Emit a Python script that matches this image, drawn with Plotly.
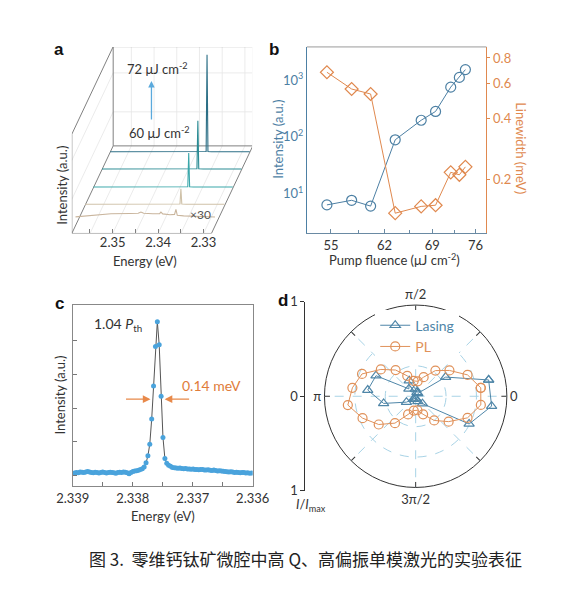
import plotly.graph_objects as go

W, H = 569, 594
def px_x(x): return x / W
def px_y(y): return 1 - y / H

FONT = "Lato"
DARK = "#333333"

# ---------------- Panel a: waterfall spectra ----------------
A_DEPTH = [0.09, 0.32, 0.52, 0.73, 0.93]
A_COLORS = ["#c9b59d", "#cfc1a8", "#3aa7aa", "#2a8b93", "#2c6f86"]
A_E = [
    [2.3590, 2.3512, 2.3470, 2.3452, 2.3446, 2.3440, 2.3420, 2.3405, 2.3402, 2.3398,
     2.3382, 2.3372, 2.3369, 2.3366, 2.3352, 2.3300, 2.3283],
    [2.3590, 2.3450, 2.3392, 2.3381, 2.3379, 2.3377, 2.3367, 2.3283],
    [2.3590, 2.3392, 2.3382, 2.3380, 2.3378, 2.3370, 2.3283],
    [2.3590, 2.3392, 2.3381, 2.3379, 2.3377, 2.3367, 2.3283],
    [2.3590, 2.3387, 2.3379, 2.3377, 2.3375, 2.3367, 2.3283],
]
A_I = [
    [0.089, 0.122, 0.124, 0.126, 0.139, 0.126, 0.122, 0.122, 0.139, 0.120,
     0.112, 0.115, 0.166, 0.106, 0.100, 0.090, 0.088],
    [0.012, 0.012, 0.012, 0.015, 0.170, 0.015, 0.012, 0.012],
    [0.010, 0.010, 0.012, 0.360, 0.012, 0.010, 0.010],
    [0.005, 0.005, 0.008, 0.500, 0.008, 0.005, 0.005],
    [0.003, 0.003, 0.006, 1.000, 0.006, 0.003, 0.003],
]
A_TICKS = [2.355, 2.35, 2.345, 2.34, 2.335, 2.33]
A_TICKTEXT = ["", "2.35", "", "2.34", "", "2.33"]
A_IGRID = [0.35, 0.75]
E0, E1, BOX_H = 2.3590, 2.32826, 1.02
E_PER_PX = 2.07e-4
SKEW_E, SKEW_I = -44 * E_PER_PX, 0.90

# ---------------- Panel b ----------------
FLUENCE = [54.5, 57.6, 60.1, 63.5, 67.3, 69.5, 71.9, 73.3, 74.3]
PEAK_INTENSITY = [6.3, 7.6, 6.0, 89, 197, 282, 758, 1126, 1546]
LINEWIDTH = [0.680, 0.562, 0.531, 0.137, 0.148, 0.150, 0.218, 0.212, 0.232]

# ---------------- Panel c ----------------
C_ENERGY = [
    2.338972, 2.338940, 2.338909, 2.338877, 2.338846, 2.338815, 2.338783, 2.338752, 2.338720, 2.338689,
    2.338658, 2.338626, 2.338595, 2.338563, 2.338532, 2.338501, 2.338469, 2.338438, 2.338406, 2.338375,
    2.338344, 2.338312, 2.338281, 2.338249, 2.338218, 2.338187, 2.338155, 2.338124, 2.338092, 2.338061,
    2.338030, 2.337998, 2.337967, 2.337935, 2.337904, 2.337873, 2.337841, 2.337810, 2.337778, 2.337747,
    2.337716, 2.337684, 2.337653, 2.337621, 2.337590, 2.337559, 2.337527, 2.337496, 2.337464, 2.337433,
    2.337402, 2.337370, 2.337339, 2.337307, 2.337276, 2.337245, 2.337213, 2.337182, 2.337150, 2.337119,
    2.337088, 2.337056, 2.337025, 2.336993, 2.336962, 2.336931, 2.336899, 2.336868, 2.336836, 2.336805,
    2.336774, 2.336742, 2.336711, 2.336679, 2.336648, 2.336617, 2.336585, 2.336554, 2.336522, 2.336491,
    2.336460, 2.336428, 2.336397, 2.336365, 2.336334, 2.336303, 2.336271, 2.336240, 2.336208, 2.336177,
    2.336146, 2.336114, 2.336083, 2.336051, 2.336020,
]
C_INTENSITY = [
    0.015, 0.018, 0.016, 0.020, 0.019, 0.017, 0.021, 0.023, 0.020, 0.018,
    0.016, 0.019, 0.017, 0.015, 0.018, 0.020, 0.017, 0.015, 0.017, 0.019,
    0.018, 0.016, 0.014, 0.017, 0.019, 0.018, 0.020, 0.019, 0.016,
    0.010, 0.018, 0.024, 0.027, 0.028, 0.031, 0.035, 0.040, 0.050, 0.075,
    0.117, 0.185, 0.335, 0.530, 0.765, 0.912, 0.775, 0.470, 0.225, 0.100,
    0.072, 0.060, 0.055,
    0.048, 0.046, 0.045, 0.043, 0.044, 0.042, 0.040, 0.041, 0.039, 0.038,
    0.037, 0.038, 0.036, 0.035, 0.034, 0.036, 0.035, 0.033, 0.032, 0.034,
    0.031, 0.030, 0.032, 0.029, 0.027, 0.028, 0.026, 0.025, 0.024, 0.022,
    0.021, 0.022, 0.020, 0.018, 0.019, 0.017, 0.016, 0.018, 0.017, 0.015,
    0.016, 0.014, 0.015,
]

# ---------------- Panel d ----------------
LASING_ANGLE = [12.6, 32.6, 52.6, 72.6, 92.6, 112.6, 132.6, 152.6, 172.6,
                192.6, 212.6, 232.6, 252.6, 272.6, 292.6, 312.6, 332.6, 352.6]
LASING_R = [0.82, 0.39, 0.04, 0.045, 0.08, 0.185, 0.11, 0.49, 0.53,
            0.36, 0.12, 0.04, 0.02, 0.03, 0.06, 0.11, 0.66, 0.84]
PL_ANGLE = [7.4, 22.4, 37.4, 52.4, 67.4, 82.4, 97.4, 112.4, 127.4, 142.4, 157.4, 172.4,
            187.4, 202.4, 217.4, 232.4, 247.4, 262.4, 277.4, 292.4, 307.4, 322.4, 337.4, 352.4]
PL_R = [0.72, 0.615, 0.466, 0.355, 0.227, 0.165, 0.17, 0.242, 0.362, 0.482, 0.637, 0.70,
        0.75, 0.63, 0.51, 0.372, 0.216, 0.158, 0.155, 0.214, 0.334, 0.456, 0.616, 0.721]

BLUE = "#4d80a4"
ORANGE = "#e0894f"
L_BLUE = "#4f86a8"
L_ORANGE = "#e0915a"

fig = go.Figure()

def proj(E, d, I):
    return E + d * SKEW_E, I + d * SKEW_I

def add_a_line(Es, ds, Is, color, width=1.0):
    xs, ys = [], []
    for E, d, I in zip(Es, ds, Is):
        x, y = proj(E, d, I)
        xs.append(x); ys.append(y)
    fig.add_trace(go.Scatter(x=xs, y=ys, mode="lines", line=dict(color=color, width=width),
                             showlegend=False, hoverinfo="skip", xaxis="x", yaxis="y"))

GRID = "#e6e6e6"
BOX = "#808080"
for E in A_TICKS:
    add_a_line([E, E], [0, 1], [0, 0], GRID, 0.8)
    add_a_line([E, E], [1, 1], [0, BOX_H], GRID, 0.8)
for g in A_IGRID:
    add_a_line([E0, E1], [1, 1], [g, g], GRID, 0.8)
    add_a_line([E0, E0], [0, 1], [g, g], GRID, 0.8)
add_a_line([E0, E1], [0, 0], [0, 0], BOX)
add_a_line([E0, E0], [0, 0], [0, BOX_H], BOX)
add_a_line([E0, E0], [0, 1], [BOX_H, BOX_H], BOX)
add_a_line([E0, E0], [1, 1], [0, BOX_H], BOX)
add_a_line([E0, E1], [1, 1], [BOX_H, BOX_H], BOX)
add_a_line([E1, E1], [1, 1], [0, BOX_H], BOX)
add_a_line([E0, E1], [1, 1], [0, 0], BOX)
add_a_line([E1, E1], [0, 1], [0, 0], BOX)
add_a_line([E0, E0], [0, 1], [0, 0], BOX)
for i in reversed(range(len(A_DEPTH))):
    add_a_line(A_E[i], [A_DEPTH[i]] * len(A_E[i]), A_I[i], A_COLORS[i], 1.1)

fig.add_trace(go.Scatter(x=FLUENCE, y=PEAK_INTENSITY, mode="lines+markers",
                         line=dict(color=BLUE, width=1),
                         marker=dict(symbol="circle-open", size=10, color=BLUE, line=dict(width=1.2)),
                         showlegend=False, xaxis="x2", yaxis="y2"))
fig.add_trace(go.Scatter(x=FLUENCE, y=LINEWIDTH, mode="lines+markers",
                         line=dict(color=ORANGE, width=1),
                         marker=dict(symbol="diamond-open", size=10, color=ORANGE, line=dict(width=1.2)),
                         showlegend=False, xaxis="x2", yaxis="y3"))

fig.add_trace(go.Scatter(x=C_ENERGY, y=C_INTENSITY, mode="lines+markers",
                         line=dict(color="#555555", width=1),
                         marker=dict(size=5, color="#4aa3dc"),
                         showlegend=False, xaxis="x4", yaxis="y4"))

fig.add_trace(go.Scatter(x=[0], y=[0], mode="markers", marker=dict(opacity=0),
                         showlegend=False, hoverinfo="skip", xaxis="x5", yaxis="y5"))

fig.add_trace(go.Scatterpolar(theta=LASING_ANGLE + LASING_ANGLE[:1], r=LASING_R + LASING_R[:1],
                              mode="lines+markers", name='<span style="color:%s">Lasing</span>' % L_BLUE,
                              line=dict(color=L_BLUE, width=1),
                              marker=dict(symbol="triangle-up-open", size=9, color=L_BLUE, line=dict(width=1.2))))
fig.add_trace(go.Scatterpolar(theta=PL_ANGLE + PL_ANGLE[:1], r=PL_R + PL_R[:1],
                              mode="lines+markers", name='<span style="color:%s">PL</span>' % L_ORANGE,
                              line=dict(color=L_ORANGE, width=1),
                              marker=dict(symbol="circle-open", size=9, color=L_ORANGE, line=dict(width=1.2))))

tickfont = dict(family=FONT, size=13, color=DARK)

fig.update_layout(
    width=W, height=H, autosize=False,
    margin=dict(l=0, r=0, t=0, b=0),
    paper_bgcolor="white", plot_bgcolor="white",
    font=dict(family=FONT, size=13, color=DARK),
    showlegend=True,
    legend=dict(x=px_x(381), y=px_y(310), xanchor="left", yanchor="top",
                bgcolor="white", font=dict(family=FONT, size=14), itemwidth=30,
                tracegroupgap=0),
    xaxis=dict(domain=[px_x(58.3), px_x(250)], range=[E0, E0 - 191.7 * E_PER_PX],
               showgrid=False, zeroline=False, showline=False,
               tickvals=A_TICKS, ticktext=A_TICKTEXT, ticks="inside", ticklen=4,
               tickcolor=BOX, tickfont=tickfont, anchor="y"),
    yaxis=dict(domain=[px_y(231.7), px_y(40)], range=[0, 1.917], visible=False, anchor="x"),
    xaxis2=dict(domain=[px_x(308.3), px_x(499.3)], type="log", range=[1.71693, 1.89146],
                tickvals=[55, 62, 69, 76], ticktext=["55", "62", "69", "76"],
                ticks="inside", ticklen=4, tickcolor="#6a8aa3",
                minor=dict(tickvals=[58.5, 65.5, 72.5], ticks="inside", ticklen=3, tickcolor="#6a8aa3"),
                showline=True, linecolor="#6a8aa3", linewidth=1, showgrid=False, zeroline=False,
                tickfont=tickfont, anchor="y2"),
    yaxis2=dict(domain=[px_y(231.7), px_y(40)], type="log", range=[0.295, 3.59],
                tickvals=[10, 100, 1000],
                ticktext=["10<sup>1</sup>", "10<sup>2</sup>", "10<sup>3</sup>"],
                ticks="", showline=True, linecolor=BLUE, linewidth=1, showgrid=False,
                zeroline=False, tickfont=dict(family=FONT, size=13, color=BLUE), anchor="x2"),
    yaxis3=dict(type="log", range=[-0.9633, -0.0425], overlaying="y2", side="right",
                tickvals=[0.2, 0.4, 0.6, 0.8], ticktext=["0.2", "0.4", "0.6", "0.8"],
                ticks="outside", ticklen=3, tickcolor=ORANGE,
                showline=True, linecolor=ORANGE, linewidth=1, showgrid=False, zeroline=False,
                tickfont=dict(family=FONT, size=13, color=ORANGE), anchor="x2"),
    xaxis4=dict(domain=[px_x(59.3), px_x(250.7)], range=[2.339, 2.336],
                tickvals=[2.339, 2.338, 2.337, 2.336],
                ticktext=["2.339", "2.338", "2.337", "2.336"],
                ticks="inside", ticklen=4, tickcolor="#777777",
                minor=dict(tickvals=[2.3385, 2.3375, 2.3365], ticks="inside", ticklen=4,
                           tickcolor="#777777"),
                showline=True, mirror=True, linecolor="#888888", linewidth=1,
                showgrid=False, zeroline=False, tickfont=tickfont, anchor="y4"),
    yaxis4=dict(domain=[px_y(491.7), px_y(305)], range=[-0.065, 1.012],
                tickvals=[0, 0.2, 0.4, 0.6, 0.8], showticklabels=False,
                ticks="inside", ticklen=4, tickcolor="#777777",
                showline=True, mirror=True, linecolor="#888888", linewidth=1,
                showgrid=False, zeroline=False, anchor="x4"),
    xaxis5=dict(domain=[px_x(306.7), px_x(316)], visible=False, range=[0, 1], anchor="y5"),
    yaxis5=dict(domain=[px_y(496), px_y(302)], range=[-1, 1],
                tickvals=[-1, 0, 1], ticktext=["1", "0", "1"],
                ticks="outside", ticklen=4, tickcolor=DARK,
                showline=True, linecolor=DARK, linewidth=1, showgrid=False, zeroline=False,
                tickfont=tickfont, anchor="x5"),
    polar=dict(
        domain=dict(x=[px_x(327), px_x(521)], y=[px_y(496), px_y(302)]),
        bgcolor="white",
        radialaxis=dict(range=[0, 1], tickvals=[1 / 3, 2 / 3], showticklabels=False,
                        ticks="", showline=False, gridcolor="#a8d3e6", griddash="dash",
                        gridwidth=1),
        angularaxis=dict(rotation=0, direction="counterclockwise",
                         tickvals=[0, 45, 90, 135, 180, 225, 270, 315],
                         ticktext=["0", "", "π/2", "", "π", "", "3π/2", ""],
                         ticks="inside", ticklen=5, tickcolor=DARK,
                         showline=True, linecolor=DARK, linewidth=1,
                         gridcolor="#a8d3e6", griddash="dash",
                         tickfont=tickfont),
    ),
)

fig.add_shape(type="line", xref="x2 domain", yref="y2 domain", x0=0, x1=1, y0=1, y1=1,
              line=dict(color="#9a9a9a", width=1))

ann = []
def A(text, x, y, size=13, color=DARK, xanchor="center", yanchor="middle", angle=0,
      family=FONT):
    ann.append(dict(text=text, x=px_x(x), y=px_y(y), xref="paper", yref="paper",
                    showarrow=False, xanchor=xanchor, yanchor=yanchor, textangle=angle,
                    font=dict(family=family, size=size, color=color)))

LBL = "Liberation Sans"
A("<b>a</b>", 45, 43, 17, "#111111", family=LBL)
A("<b>b</b>", 273, 43, 17, "#111111", family=LBL)
A("<b>c</b>", 45, 304, 17, "#111111", family=LBL)
A("<b>d</b>", 283, 301, 17, "#111111", family=LBL)

A("72 μJ cm<sup>-2</sup>", 115, 62, 13, xanchor="left")
A("60 μJ cm<sup>-2</sup>", 117, 128, 13, xanchor="left")
A("×30", 195, 212, 12, "#555555")
A("Intensity (a.u.)", 47.5, 182, 13, angle=-90)
A("Energy (eV)", 136.5, 260.5, 13)
ann.append(dict(text="", x=px_x(143), y=px_y(75), xref="paper", yref="paper",
                ax=0, ay=40, showarrow=True, arrowhead=2, arrowsize=1, arrowwidth=1.3,
                arrowcolor="#5aa9dc"))

A("Intensity (a.u.)", 278, 135, 13, BLUE, angle=-90)
A("Linewidth (meV)", 536, 144, 13, ORANGE, angle=90)
A("Pump fluence (μJ cm<sup>-2</sup>)", 402, 258, 13)

A("1.04 <i>P</i><sub>th</sub>", 80, 325, 14, xanchor="left")
A("0.14 meV", 173, 388, 14, "#e07c3a", xanchor="left")
A("Intensity (a.u.)", 46, 398, 13, angle=-90)
A("Energy (eV)", 155, 522, 13)
ann.append(dict(text="", x=px_x(142), y=px_y(402), xref="paper", yref="paper",
                ax=-26, ay=0, showarrow=True, arrowhead=2, arrowsize=1.1, arrowwidth=1.4,
                arrowcolor="#e8894a"))
ann.append(dict(text="", x=px_x(157), y=px_y(402), xref="paper", yref="paper",
                ax=26, ay=0, showarrow=True, arrowhead=2, arrowsize=1.1, arrowwidth=1.4,
                arrowcolor="#e8894a"))

A("<i>I</i>/<i>I</i><sub>max</sub>", 313, 511, 13)

A("图 3.  零维钙钛矿微腔中高 Q、高偏振单模激光的实验表征", 306.5, 566, 17, "#222222",
  family="Noto Sans CJK SC")

fig.update_layout(annotations=ann)
fig.write_html("out.html", config={"displayModeBar": False},
               post_script="document.body.style.margin='0px';document.body.style.overflow='hidden';")
